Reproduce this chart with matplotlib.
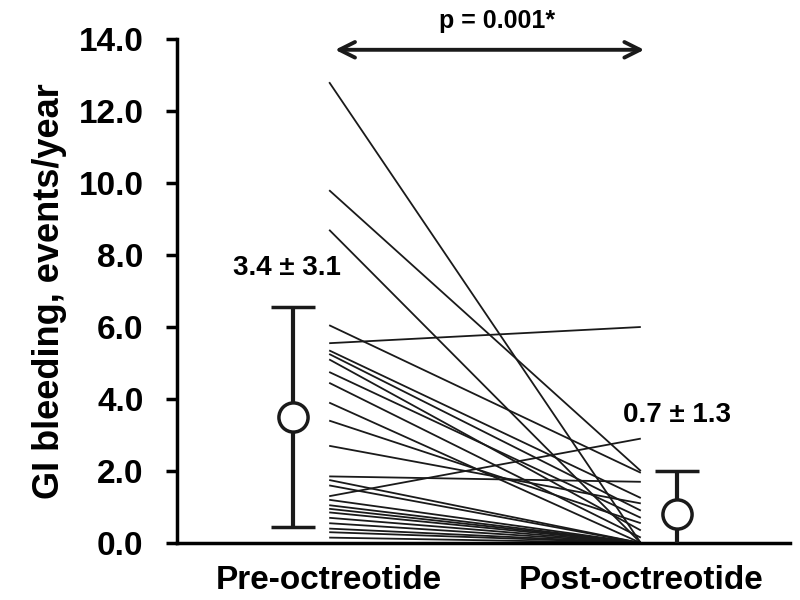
import matplotlib
matplotlib.use('Agg')
import matplotlib.pyplot as plt

plt.rcParams['font.family'] = ['Liberation Sans', 'DejaVu Sans']
plt.rcParams['font.weight'] = 'bold'

# 各患者的前后数据 (events/year)
pre_values = [12.8, 9.8, 8.7, 6.05, 5.55, 5.35, 5.25, 5.1, 4.75, 4.45, 3.9, 3.4, 2.7,
              1.85, 1.75, 1.6, 1.3, 1.2, 1.05, 0.95, 0.85, 0.7, 0.55, 0.4, 0.3, 0.15]
post_values = [0.0, 2.0, 0.0, 1.95, 6.0, 1.25, 0.9, 0.35, 0.7, 0.15, 0.0, 0.55, 1.1,
               1.7, 0.0, 0.0, 2.9, 0.0, 0.0, 0.0, 0.0, 0.0, 0.0, 0.0, 0.0, 0.0]

categories = ['Pre-octreotide', 'Post-octreotide']
group_means = [3.5, 0.8]
group_sd = [3.05, 1.2]
mean_labels = ['3.4 \u00b1 3.1', '0.7 \u00b1 1.3']
p_label = 'p = 0.001*'
y_ticks = [0, 2, 4, 6, 8, 10, 12, 14]

fig = plt.figure(figsize=(8, 6), dpi=100)
ax = fig.add_axes([0.221, 0.095, 0.767, 0.84])

# 配对连线
for a, b in zip(pre_values, post_values):
    ax.plot([0, 1], [a, b], color='#1a1a1a', lw=1.3, solid_capstyle='butt', zorder=2)

# 均值 ± SD
err_x = [-0.116, 1.116]
ax.errorbar(err_x, group_means, yerr=group_sd, fmt='o', color='#1a1a1a',
            mfc='white', mec='#1a1a1a', mew=2.5, ms=21, elinewidth=3,
            capsize=16, capthick=3, zorder=3)

ax.text(err_x[0] - 0.02, 7.65, mean_labels[0], ha='center', va='center', fontsize=20, fontweight='bold')
ax.text(err_x[1], 3.55, mean_labels[1], ha='center', va='center', fontsize=20, fontweight='bold')

# 显著性箭头
ax.annotate('', xy=(1.02, 13.7), xytext=(0.01, 13.7),
            arrowprops=dict(arrowstyle='<->', lw=2.8, color='#1a1a1a',
                            mutation_scale=28),
            annotation_clip=False)
ax.text(0.54, 14.5, p_label, ha='center', va='center', fontsize=18, fontweight='bold',
        clip_on=False)

ax.set_xlim(-0.489, 1.48)
ax.set_ylim(0, 14)
ax.set_yticks(y_ticks)
ax.set_yticklabels([f'{t:.1f}' for t in y_ticks], fontsize=24, fontweight='bold')
ax.set_xticks([0, 1])
ax.set_xticklabels(categories, fontsize=24, fontweight='bold')
ax.tick_params(axis='x', length=0, pad=16)
ax.tick_params(axis='y', length=8, width=2.5, direction='out', pad=16)
ax.set_ylabel('GI bleeding, events/year', fontsize=26, fontweight='bold', labelpad=8)

for s in ['top', 'right']:
    ax.spines[s].set_visible(False)
for s in ['left', 'bottom']:
    ax.spines[s].set_linewidth(2.5)

fig.savefig('out.png', dpi=100)
